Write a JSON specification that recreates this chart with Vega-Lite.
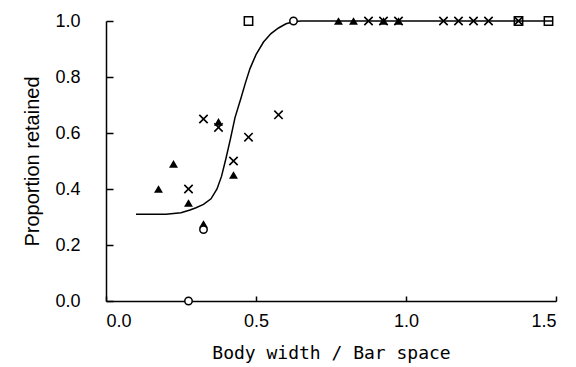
{
  "$schema": "https://vega.github.io/schema/vega-lite/v6.json",
  "width": 450,
  "height": 280,
  "autosize": "none",
  "padding": {"left": 106, "top": 21, "right": 20, "bottom": 66},
  "background": "white",
  "config": {
    "view": {"stroke": null},
    "axis": {
      "grid": false,
      "domainColor": "black",
      "domainWidth": 1.5,
      "tickColor": "black",
      "tickWidth": 1.5,
      "labelColor": "black",
      "titleColor": "black",
      "labelFont": "Liberation Sans",
      "labelFontSize": 18,
      "titleFontWeight": "normal"
    }
  },
  "datasets": {
    "curve": [
      {"x": 0.10, "y": 0.31},
      {"x": 0.20, "y": 0.31},
      {"x": 0.25, "y": 0.315},
      {"x": 0.28, "y": 0.325},
      {"x": 0.30, "y": 0.333},
      {"x": 0.325, "y": 0.345},
      {"x": 0.35, "y": 0.365},
      {"x": 0.37, "y": 0.40},
      {"x": 0.385, "y": 0.445},
      {"x": 0.40, "y": 0.51},
      {"x": 0.415, "y": 0.58},
      {"x": 0.43, "y": 0.655},
      {"x": 0.45, "y": 0.725},
      {"x": 0.465, "y": 0.78},
      {"x": 0.48, "y": 0.83},
      {"x": 0.50, "y": 0.88},
      {"x": 0.525, "y": 0.925},
      {"x": 0.55, "y": 0.955},
      {"x": 0.575, "y": 0.975},
      {"x": 0.60, "y": 0.99},
      {"x": 0.625, "y": 0.997},
      {"x": 0.65, "y": 1.0},
      {"x": 1.49, "y": 1.0}
    ],
    "points": [
      {"x": 0.175, "y": 0.40, "type": "triangle"},
      {"x": 0.225, "y": 0.49, "type": "triangle"},
      {"x": 0.275, "y": 0.35, "type": "triangle"},
      {"x": 0.325, "y": 0.275, "type": "triangle"},
      {"x": 0.375, "y": 0.64, "type": "triangle"},
      {"x": 0.425, "y": 0.45, "type": "triangle"},
      {"x": 0.775, "y": 1.0, "type": "triangle"},
      {"x": 0.825, "y": 1.0, "type": "triangle"},
      {"x": 0.925, "y": 1.0, "type": "triangle"},
      {"x": 0.975, "y": 1.0, "type": "triangle"},
      {"x": 0.275, "y": 0.40, "type": "cross"},
      {"x": 0.325, "y": 0.65, "type": "cross"},
      {"x": 0.375, "y": 0.62, "type": "cross"},
      {"x": 0.425, "y": 0.50, "type": "cross"},
      {"x": 0.475, "y": 0.585, "type": "cross"},
      {"x": 0.575, "y": 0.665, "type": "cross"},
      {"x": 0.875, "y": 1.0, "type": "cross"},
      {"x": 0.925, "y": 1.0, "type": "cross"},
      {"x": 0.975, "y": 1.0, "type": "cross"},
      {"x": 1.125, "y": 1.0, "type": "cross"},
      {"x": 1.175, "y": 1.0, "type": "cross"},
      {"x": 1.225, "y": 1.0, "type": "cross"},
      {"x": 1.275, "y": 1.0, "type": "cross"},
      {"x": 1.375, "y": 1.0, "type": "cross"},
      {"x": 0.275, "y": 0.0, "type": "circle"},
      {"x": 0.325, "y": 0.255, "type": "circle"},
      {"x": 0.625, "y": 1.0, "type": "circle"},
      {"x": 0.475, "y": 1.0, "type": "square"},
      {"x": 1.375, "y": 1.0, "type": "square"},
      {"x": 1.475, "y": 1.0, "type": "square"}
    ]
  },
  "encoding": {
    "x": {
      "field": "x", "type": "quantitative",
      "scale": {"domain": [0, 1.5], "nice": false, "zero": false},
      "axis": {
        "title": "Body width / Bar space",
        "values": [0, 0.5, 1.0, 1.5],
        "format": ".1f",
        "tickSize": -5,
        "labelPadding": 16,
        "titleFont": "DejaVu Sans Mono",
        "titleFontSize": 18,
        "titlePadding": 14
      }
    },
    "y": {
      "field": "y", "type": "quantitative",
      "scale": {"domain": [0, 1], "nice": false},
      "axis": {
        "title": "Proportion retained",
        "values": [0, 0.2, 0.4, 0.6, 0.8, 1.0],
        "format": ".1f",
        "tickSize": -7,
        "labelPadding": 33,
        "titleFont": "Liberation Sans",
        "titleFontSize": 20,
        "titlePadding": 12
      }
    }
  },
  "layer": [
    {
      "data": {"name": "curve"},
      "mark": {"type": "line", "color": "black", "strokeWidth": 1.5}
    },
    {
      "data": {"name": "points"},
      "transform": [{"filter": "datum.type === 'triangle'"}],
      "mark": {"type": "point", "shape": "triangle-up", "filled": true, "color": "black", "size": 80, "opacity": 1}
    },
    {
      "data": {"name": "points"},
      "transform": [{"filter": "datum.type === 'cross'"}],
      "mark": {"type": "point", "shape": "M-1,-1L1,1M-1,1L1,-1", "filled": false, "color": "black", "strokeWidth": 1.6, "size": 70, "opacity": 1}
    },
    {
      "data": {"name": "points"},
      "transform": [{"filter": "datum.type === 'circle'"}],
      "mark": {"type": "point", "shape": "circle", "filled": true, "fill": "white", "stroke": "black", "strokeWidth": 1.5, "size": 55, "opacity": 1}
    },
    {
      "data": {"name": "points"},
      "transform": [{"filter": "datum.type === 'square'"}],
      "mark": {"type": "point", "shape": "square", "filled": false, "color": "black", "strokeWidth": 1.5, "size": 70, "opacity": 1}
    }
  ]
}
